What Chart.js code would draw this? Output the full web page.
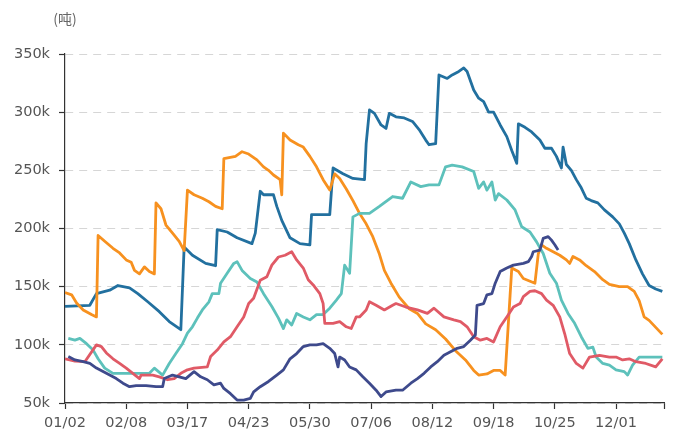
<!DOCTYPE html>
<html>
<head>
<meta charset="utf-8">
<script src="https://cdn.jsdelivr.net/npm/chart.js@4"></script>
<style>
  body { margin: 0; background: #fff; }
  #wrap { width: 673px; height: 430px; }
</style>
</head>
<body>
<div id="wrap"><canvas id="myChart" width="673" height="430"></canvas></div>
<script>
// days counted from 01/02, values in thousand tonnes
const tickDays = [0, 37, 74, 111, 148, 185, 222, 259, 296, 333, 362];
const tickLabels = ['01/02', '02/08', '03/17', '04/23', '05/30', '07/06', '08/12', '09/18', '10/25', '12/01'];
const yTicks = [50, 100, 150, 200, 250, 300, 350];

const blueDays = [0, 15, 19, 27, 32, 39, 44, 50, 57, 63, 70, 72, 77, 85, 91, 92, 98, 104, 113, 115, 118, 120, 126, 128, 131, 136, 142, 148, 149, 160, 162, 168, 174, 181, 182, 184, 187, 191, 194, 196, 200, 205, 210, 214, 218, 220, 224, 226, 231, 234, 238, 241, 243, 247, 250, 253, 256, 259, 263, 267, 270, 273, 274, 278, 282, 287, 290, 294, 297, 300, 301, 303, 306, 309, 312, 315, 318, 322, 326, 331, 335, 338, 341, 345, 349, 353, 357, 361];
const blueValues = [133, 134, 144, 147, 151, 149, 144, 137, 128.5, 120, 113, 184, 177, 170, 168, 199, 197, 192, 187, 196, 232, 229, 229, 219, 207, 192, 187, 186, 212, 212, 252, 247, 243, 242, 273, 302, 299, 289, 286, 299, 296, 295, 292, 285, 276, 272, 273, 332, 329, 332, 335, 338, 335, 319, 312, 309, 300, 300, 289, 279, 267, 256, 290, 287, 283, 276, 269, 269, 262, 252, 270, 255, 250, 242, 235, 226, 224, 222, 216, 210, 204, 196, 187, 173, 161, 151, 148, 146];

const orangeDays = [0, 4, 7, 11, 16, 19, 20, 24, 29, 33, 37, 40, 42, 45, 48, 51, 54, 55, 58, 61, 65, 69, 72, 74, 78, 83, 87, 91, 95, 96, 103, 107, 111, 116, 120, 123, 126, 130, 131, 132, 136, 141, 144, 148, 152, 156, 160, 163, 166, 170, 174, 178, 182, 186, 190, 193, 197, 202, 208, 213, 218, 224, 230, 236, 242, 247, 250, 255, 259, 263, 266, 270, 274, 277, 284, 286, 288, 291, 295, 299, 303, 305, 307, 311, 315, 320, 325, 329, 335, 340, 344, 347, 350, 353, 357, 361];
const orangeValues = [145, 143, 136, 130, 126, 124, 194, 189, 183, 179, 173, 171, 164, 161, 167, 163, 161, 222, 217, 203, 196, 189, 181, 233, 229, 226, 223, 219, 217, 260, 262, 266, 264, 259, 253, 250, 246, 242, 229, 282, 276, 272, 270, 262, 253, 242, 233, 247, 243, 234, 224, 213, 204, 193, 178, 164, 153, 141, 131, 127, 118, 113, 105, 95, 87, 78, 74, 75, 78, 78, 74, 166, 163, 157, 153, 178, 186, 183, 180, 177, 173, 170, 176, 173, 168, 163, 156, 152, 150, 150, 146, 138, 124, 121, 115, 109];

const tealDays = [2, 6, 9, 13, 17, 20, 24, 29, 37, 45, 51, 54, 59, 63, 67, 71, 74, 77, 80, 83, 87, 89, 93, 94, 98, 102, 104, 107, 112, 116, 120, 125, 129, 132, 134, 137, 140, 144, 148, 152, 156, 160, 164, 167, 169, 172, 174, 178, 184, 190, 198, 204, 209, 215, 220, 226, 230, 234, 240, 247, 250, 253, 255, 258, 260, 262, 267, 272, 276, 281, 285, 289, 293, 297, 300, 304, 308, 312, 316, 319, 321, 325, 329, 333, 338, 340, 343, 347, 353, 361];
const tealValues = [105.5, 104, 105.5, 101, 95.5, 88, 80, 75.5, 75.5, 75.5, 75.5, 80, 74, 84, 92.5, 101, 110, 115.5, 123, 130, 137, 144, 144, 153, 161.5, 170, 171.5, 164, 157, 154, 144, 133, 123, 114, 121.5, 117, 127, 124, 121.5, 126, 126, 131.5, 138.5, 144, 168.5, 161.5, 210, 213, 213, 219, 227.5, 226, 240, 236, 237.5, 237.5, 253, 254.5, 253, 249, 234.5, 240, 233, 240, 224.5, 230, 224.5, 216, 201.5, 197, 188.5, 178.5, 161.5, 153, 138.5, 127, 118.5, 107, 97, 98, 89.5, 84, 82.5, 78.5, 77, 74, 82.5, 89.5, 89.5, 89.5];

const redDays = [0, 6, 12, 19, 22, 25, 29, 33, 37, 41, 45, 46, 53, 57, 62, 66, 70, 74, 78, 86, 88, 92, 96, 100, 104, 108, 111, 114, 118, 122, 125, 129, 133, 137, 140, 144, 147, 150, 154, 156, 157, 162, 166, 170, 173, 176, 178, 182, 184, 188, 193, 198, 200, 206, 213, 219, 223, 229, 235, 239, 243, 247, 251, 255, 259, 263, 267, 271, 275, 277, 281, 284, 288, 291, 295, 299, 302, 305, 309, 313, 317, 323, 329, 333, 337, 341, 345, 351, 357, 361];
const redValues = [88, 86, 85.5, 100, 98.5, 93, 88, 84, 80, 75.5, 71, 74, 74, 72.5, 70, 71, 75.5, 78.5, 80, 81, 90, 95.5, 102.5, 107, 115.5, 124, 135.5, 140, 155.5, 158.5, 168.5, 175.5, 177, 180, 173, 166, 156, 151.5, 144, 135.5, 118.5, 118.5, 120, 115.5, 114, 124, 124, 130, 137, 134, 130, 134, 135.5, 132.5, 130, 127, 131.5, 124, 121.5, 120, 115.5, 107, 104, 105.5, 102.5, 115.5, 124, 132.5, 135.5, 141.5, 146, 146.5, 144, 138.5, 134, 124, 109.5, 92.5, 84, 80, 89.5, 91, 89.5, 89.5, 87, 88, 85.5, 84, 81, 88];

const navyDays = [2, 6, 11, 15, 19, 23, 27, 31, 35, 39, 43, 49, 55, 59, 60, 65, 69, 73, 78, 82, 86, 90, 94, 96, 100, 104, 108, 112, 114, 118, 123, 128, 132, 136, 140, 144, 148, 152, 156, 160, 163, 165, 166, 169, 172, 176, 180, 184, 188, 191, 194, 200, 204, 209, 213, 217, 221, 225, 229, 233, 237, 241, 245, 248, 249, 253, 255, 258, 260, 263, 267, 271, 277, 280, 282, 283, 287, 289, 292, 294, 296, 298];
const navyValues = [90, 87, 85.5, 84, 80, 77, 74, 71, 67, 64, 65, 65, 64, 64, 71, 74, 72.5, 71, 77, 72.5, 70, 65.5, 67, 62.5, 58, 52.5, 52.5, 54, 59.5, 64, 68.5, 74, 78.5, 88, 92.5, 98.5, 100, 100, 101, 97, 92.5, 81, 89.5, 87, 81, 78.5, 72.5, 67, 61, 55.5, 59.5, 61, 61, 67, 71, 75.5, 81, 85.5, 91, 94, 97, 98.5, 104, 108.5, 134, 135.5, 143, 144, 153, 163, 166, 168.5, 170, 171.5, 176, 180, 181.5, 191.5, 193, 190, 186, 181.5];

function toPoints(days, values) {
  return days.map((d, i) => ({ x: d, y: values[i] }));
}

function lineSet(label, days, values, color) {
  return {
    label: label,
    data: toPoints(days, values),
    borderColor: color,
    borderWidth: 2.8,
    pointRadius: 0,
    tension: 0,
    borderJoinStyle: 'round',
    fill: false
  };
}

const axisFont = { family: 'DejaVu Sans', size: 14.5 };

// draws the unit above the y axis
const unitLabel = {
  id: 'unitLabel',
  afterDraw(chart) {
    const ctx = chart.ctx;
    ctx.save();
    ctx.fillStyle = '#666';
    ctx.font = '14px "Noto Sans CJK SC"';
    ctx.textAlign = 'center';
    ctx.textBaseline = 'middle';
    ctx.fillText('(吨)', chart.chartArea.left, 19);
    ctx.restore();
  }
};

const ctx = document.getElementById('myChart').getContext('2d');
new Chart(ctx, {
  type: 'line',
  data: {
    datasets: [
      lineSet('navy', navyDays, navyValues, '#3e4a8c'),
      lineSet('red', redDays, redValues, '#e05a66'),
      lineSet('teal', tealDays, tealValues, '#5dc1bb'),
      lineSet('orange', orangeDays, orangeValues, '#f7911f'),
      lineSet('blue', blueDays, blueValues, '#22709f')
    ]
  },
  options: {
    responsive: false,
    devicePixelRatio: 1,
    animation: false,
    layout: { padding: { top: 54, right: 9, left: 0, bottom: 0 } },
    plugins: {
      legend: { display: false },
      tooltip: { enabled: false }
    },
    scales: {
      x: {
        type: 'linear',
        min: 0,
        max: 362,
        afterBuildTicks: scale => { scale.ticks = tickDays.map(v => ({ value: v })); },
        afterFit: scale => { scale.height = 27; },
        grid: { drawOnChartArea: false, drawTicks: true, tickLength: 6, tickColor: '#333', tickWidth: 1.2 },
        border: { color: '#333', width: 1.2 },
        ticks: {
          autoSkip: false,
          maxRotation: 0,
          padding: 6,
          color: '#555',
          font: axisFont,
          callback: (value, index) => tickLabels[index] || ''
        }
      },
      y: {
        min: 50,
        max: 350,
        afterBuildTicks: scale => { scale.ticks = yTicks.map(v => ({ value: v })); },
        afterFit: scale => { scale.width = 65; },
        grid: { color: '#d6d6d6', lineWidth: 1, tickColor: '#333', tickLength: 6, tickWidth: 1.2 },
        border: { color: '#333', width: 1.2, dash: [8, 6] },
        ticks: {
          padding: 9,
          color: '#555',
          font: axisFont,
          callback: value => value + 'k'
        }
      }
    }
  },
  plugins: [unitLabel]
});
</script>
</body>
</html>
